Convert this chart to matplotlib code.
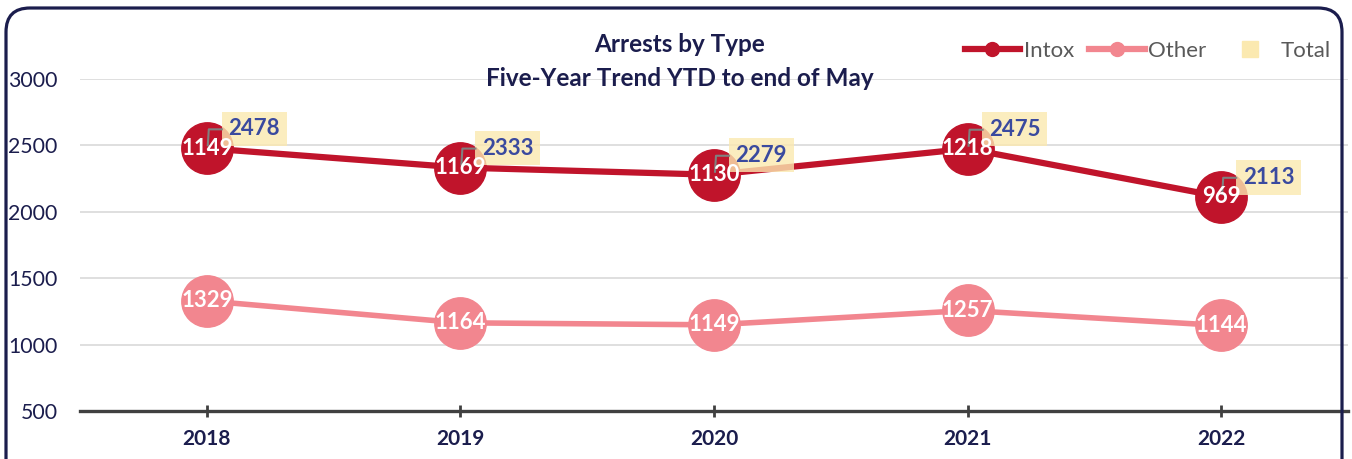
import matplotlib
matplotlib.use("Agg")
import matplotlib.pyplot as plt
from matplotlib.lines import Line2D
from matplotlib.patches import FancyBboxPatch
from matplotlib.transforms import IdentityTransform

plt.rcParams['font.family'] = ['Lato', 'DejaVu Sans']

years = ['2018', '2019', '2020', '2021', '2022']
intox = [1149, 1169, 1130, 1218, 969]
other = [1329, 1164, 1149, 1257, 1144]
total = [2478, 2333, 2279, 2475, 2113]

navy = '#1B1D4D'
intox_col = '#C0142B'
other_col = '#F2868F'
box_col = '#FBE9B0'

fig = plt.figure(figsize=(13.52, 4.59), dpi=100)
W, H = 1352, 459
ax = fig.add_axes([80 / W, (H - 411) / H, 1268 / W, (411 - 79) / H])

x = list(range(len(years)))
stacked = [o + i for o, i in zip(other, intox)]

ax.plot(x, other, color=other_col, lw=4, marker='o', ms=37, zorder=3)
ax.plot(x, stacked, color=intox_col, lw=4.5, marker='o', ms=37, zorder=3)

for xi, v in zip(x, other):
    ax.text(xi, v, str(v), color='white', fontsize=16, fontweight='bold',
            ha='center', va='center', zorder=6)
for xi, s, v in zip(x, stacked, intox):
    ax.text(xi, s, str(v), color='white', fontsize=16, fontweight='bold',
            ha='center', va='center', zorder=6)

ax.set_xlim(-0.5, len(years) - 0.5)
ax.set_ylim(500, 3000)
ax.set_yticks([500, 1000, 1500, 2000, 2500, 3000])
ax.set_xticks(x)
ax.set_xticklabels(years)
ax.grid(axis='y', color='#D9D9D9', lw=1.2)
ax.set_axisbelow(True)
for s in ['top', 'right', 'left']:
    ax.spines[s].set_visible(False)
ax.spines['bottom'].set_color('#404040')
ax.spines['bottom'].set_linewidth(2.4)
ax.tick_params(axis='y', length=0, pad=16, labelsize=15.3, labelcolor=navy)
ax.tick_params(axis='x', direction='inout', length=8, width=2, color='#404040',
               pad=9, labelsize=15, labelcolor=navy)
for lab in ax.get_xticklabels():
    lab.set_fontweight('bold')

# total labels with leader lines
for xi, s, t in zip(x, stacked, total):
    ax.annotate(str(t), xy=(xi, s), xytext=(34, 14), textcoords='offset points',
                ha='center', va='center', fontsize=16, fontweight='bold',
                color='#3A4A9F', zorder=5,
                bbox=dict(boxstyle='square,pad=0.3', fc=box_col, ec='none', alpha=0.8))
    px, py = ax.transData.transform((xi, s))
    ax.plot([px + 1, px + 2, px + 15], [py + 3, py + 19, py + 19],
            color='#808080', lw=1.5, transform=IdentityTransform(), zorder=5)

fig.text(680 / W, 1 - 45 / H, 'Arrests by Type', ha='center', va='center',
         fontsize=17.5, fontweight='bold', color=navy)
fig.text(680 / W, 1 - 78 / H, 'Five-Year Trend YTD to end of May', ha='center',
         va='center', fontsize=17.5, fontweight='bold', color=navy)

handles = [
    Line2D([], [], color=intox_col, lw=4.5, marker='o', ms=10),
    Line2D([], [], color=other_col, lw=4.5, marker='o', ms=10),
    Line2D([], [], color=box_col, lw=0, marker='s', ms=12),
]
leg = fig.legend(handles, ['Intox', 'Other', 'Total'], loc='center right',
                 bbox_to_anchor=(1340 / W, 1 - 51 / H), ncol=3, frameon=False,
                 fontsize=16, handlelength=2.5, handletextpad=0.15,
                 columnspacing=0.7, borderaxespad=0)
for t in leg.get_texts():
    t.set_color('#595959')

border = FancyBboxPatch((6, -40), 1336, 451 + 40,
                        boxstyle='round,pad=0,rounding_size=24',
                        fc='none', ec=navy, lw=2.3, transform=IdentityTransform(),
                        zorder=10)
fig.add_artist(border)

fig.savefig('out.png', dpi=100)
